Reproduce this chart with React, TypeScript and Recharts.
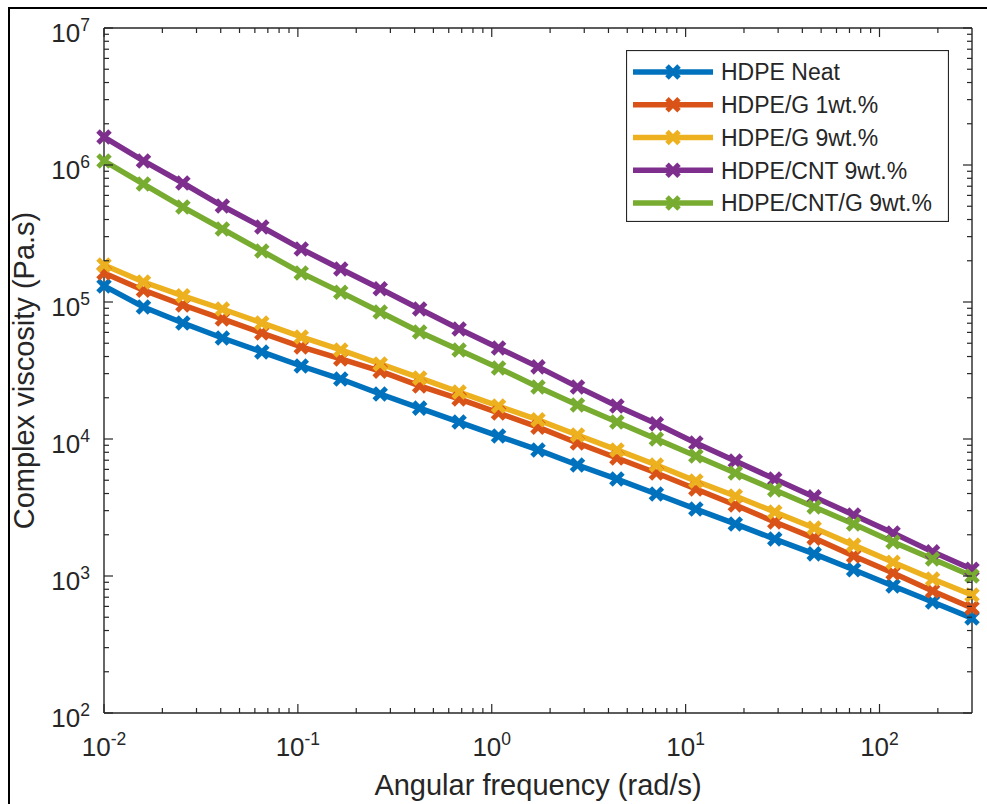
import React from "react";
import { LineChart, Line, XAxis, YAxis, Legend } from "recharts";

// angular frequency (rad/s), 23 points from 0.01 to 300
const freq = [
  0.01, 0.01598, 0.02553, 0.04079, 0.06517, 0.1041, 0.1664, 0.2659, 0.4248,
  0.6787, 1.084, 1.732, 2.768, 4.422, 7.066, 11.29, 18.04, 28.82, 46.04, 73.56,
  117.5, 187.8, 300,
];

// complex viscosity (Pa.s)
const hdpeNeat = [
  131000, 92000, 70300, 54600, 43200, 34100, 27400, 21300, 16800, 13300, 10500,
  8320, 6460, 5100, 3970, 3080, 2400, 1860, 1450, 1110, 845, 646, 493,
];
const hdpeG1 = [
  163000, 122000, 95100, 75200, 59400, 47000, 38400, 31300, 24400, 19600, 15500,
  12200, 9360, 7270, 5650, 4320, 3300, 2480, 1890, 1400, 1050, 778, 583,
];
const hdpeG9 = [
  186000, 140000, 111000, 88900, 70300, 55600, 44700, 35300, 27900, 22000,
  17400, 13800, 10700, 8320, 6460, 4930, 3840, 2930, 2240, 1680, 1260, 951, 726,
];
const hdpeCnt9 = [
  1600000, 1070000, 739000, 502000, 353000, 244000, 174000, 125000, 88900,
  63600, 46200, 33600, 24000, 17400, 12900, 9360, 6910, 5100, 3780, 2790, 2060,
  1500, 1120,
];
const hdpeCntG9 = [
  1070000, 726000, 493000, 341000, 236000, 163000, 118000, 84500, 60400, 44700,
  33000, 24000, 17700, 13300, 10000, 7520, 5650, 4250, 3190, 2400, 1770, 1330,
  1000,
];

const seriesKeys = ["neat", "g1", "g9", "cnt9", "cntg9"];
const seriesNames = [
  "HDPE Neat",
  "HDPE/G 1wt.%",
  "HDPE/G 9wt.%",
  "HDPE/CNT 9wt.%",
  "HDPE/CNT/G 9wt.%",
];
const seriesColors = ["#0072BD", "#D95319", "#EDB120", "#7E2F8E", "#77AC30"];

// major + minor tick positions on the log axes
const xMajor = [0.01, 0.1, 1, 10, 100];
const yMajor = [1e2, 1e3, 1e4, 1e5, 1e6, 1e7];
const mantissas = [2, 3, 4, 5, 6, 7, 8, 9];
const xTicks = [
  ...xMajor,
  ...xMajor.flatMap((d) => mantissas.map((m) => m * d)).filter((v) => v < 300),
];
const yTicks = [
  ...yMajor,
  ...yMajor.slice(0, -1).flatMap((d) => mantissas.map((m) => m * d)),
];

const data = freq.map((f, i) => ({
  f,
  neat: hdpeNeat[i],
  g1: hdpeG1[i],
  g9: hdpeG9[i],
  cnt9: hdpeCnt9[i],
  cntg9: hdpeCntG9[i],
}));

const font = '"Liberation Sans", Arial, Helvetica, sans-serif';
const axisColor = "#262626";

const XMark = ({ cx, cy, color }: any) => {
  const s = 6;
  return (
    <g stroke={color} strokeWidth={5}>
      <line x1={cx - s} y1={cy - s} x2={cx + s} y2={cy + s} />
      <line x1={cx - s} y1={cy + s} x2={cx + s} y2={cy - s} />
    </g>
  );
};

const isMajor = (v: number) => {
  const e = Math.log10(v);
  return Math.abs(e - Math.round(e)) < 1e-6;
};

// draws inward tick marks (long for decades, short for minor) and the 10^n labels
const BoxTick = (props: any) => {
  const { x, y, payload, side, labeled } = props;
  const v = payload.value;
  const major = isMajor(v);
  const len = major ? 9 : 5;
  const exp = Math.round(Math.log10(v));
  let tick = null;
  if (side === "bottom") tick = <line x1={x} x2={x} y1={y} y2={y - len} />;
  if (side === "top") tick = <line x1={x} x2={x} y1={y} y2={y + len} />;
  if (side === "left") tick = <line x1={x} x2={x + len} y1={y} y2={y} />;
  if (side === "right") tick = <line x1={x} x2={x - len} y1={y} y2={y} />;
  let label = null;
  if (labeled && major) {
    const bottom = side === "bottom";
    label = (
      <text
        x={bottom ? x : x - 14}
        y={bottom ? y + 43 : y + 14}
        textAnchor={bottom ? "middle" : "end"}
        fontSize={26}
        fill={axisColor}
        stroke="none"
        fontFamily={font}
      >
        10
        <tspan dy={-11} fontSize={17.5}>
          {exp}
        </tspan>
      </text>
    );
  }
  return (
    <g>
      <g stroke={axisColor} strokeWidth={1.2}>
        {tick}
      </g>
      {label}
    </g>
  );
};

const XTitle = (props: any) => {
  const vb = props.viewBox || {};
  return (
    <text x={vb.x + vb.width / 2} y={795} textAnchor="middle" fontSize={29} fill={axisColor} fontFamily={font}>
      Angular frequency (rad/s)
    </text>
  );
};

const YTitle = (props: any) => {
  const vb = props.viewBox || {};
  const cy = vb.y + vb.height / 2;
  return (
    <text
      x={34}
      y={cy}
      transform={`rotate(-90 34 ${cy})`}
      textAnchor="middle"
      fontSize={29}
      fill={axisColor}
      fontFamily={font}
    >
      Complex viscosity (Pa.s)
    </text>
  );
};

const LegendBox = () => (
  <svg width={323} height={172} style={{ display: "block" }}>
    <rect x={0.5} y={0.5} width={322} height={171} fill="#fff" stroke={axisColor} strokeWidth={1.2} />
    {seriesNames.map((name, i) => {
      const cy = 22 + i * 32.75;
      return (
        <g key={name}>
          <line x1={7} x2={87} y1={cy} y2={cy} stroke={seriesColors[i]} strokeWidth={5.5} />
          <XMark cx={47} cy={cy} color={seriesColors[i]} />
          <text x={95} y={cy} dy="0.36em" fontSize={23} fill={axisColor} fontFamily={font}>
            {name}
          </text>
        </g>
      );
    })}
  </svg>
);

const axisLineStyle = { stroke: axisColor, strokeWidth: 1.4 };

export default function App() {
  return (
    <div style={{ position: "absolute", left: 0, top: 0, width: 987, height: 804, background: "#fff" }}>
      <div
        style={{
          position: "absolute",
          left: 8,
          top: 7,
          width: 979,
          height: 797,
          borderLeft: "2px solid #000",
          borderTop: "2px solid #000",
        }}
      />
      <LineChart
        width={987}
        height={804}
        data={data}
        margin={{ top: 27, right: 14, bottom: 90, left: 103 }}
        style={{ position: "absolute", left: 0, top: 0 }}
      >
        <XAxis
          xAxisId="bottom"
          dataKey="f"
          type="number"
          scale="log"
          domain={[0.01, 300]}
          ticks={xTicks}
          interval={0}
          height={1}
          tickSize={0}
          tickMargin={0}
          tickLine={false}
          tick={<BoxTick side="bottom" labeled />}
          axisLine={axisLineStyle}
          label={<XTitle />}
        />
        <XAxis
          xAxisId="top"
          orientation="top"
          dataKey="f"
          type="number"
          scale="log"
          domain={[0.01, 300]}
          allowDataOverflow
          ticks={xTicks}
          interval={0}
          height={1}
          tickSize={0}
          tickMargin={0}
          tickLine={false}
          tick={<BoxTick side="top" />}
          axisLine={axisLineStyle}
        />
        <YAxis
          yAxisId="left"
          type="number"
          scale="log"
          domain={[1e2, 1e7]}
          ticks={yTicks}
          interval={0}
          width={1}
          tickSize={0}
          tickMargin={0}
          tickLine={false}
          tick={<BoxTick side="left" labeled />}
          axisLine={axisLineStyle}
          label={<YTitle />}
        />
        <YAxis
          yAxisId="right"
          orientation="right"
          type="number"
          scale="log"
          domain={[1e2, 1e7]}
          allowDataOverflow
          ticks={yTicks}
          interval={0}
          width={1}
          tickSize={0}
          tickMargin={0}
          tickLine={false}
          tick={<BoxTick side="right" />}
          axisLine={axisLineStyle}
        />
        {seriesKeys.map((key, i) => (
          <Line
            key={key}
            xAxisId="bottom"
            yAxisId="left"
            dataKey={key}
            name={seriesNames[i]}
            stroke={seriesColors[i]}
            strokeWidth={5.5}
            isAnimationActive={false}
            dot={(p: any) => <XMark key={`${key}-${p.index}`} cx={p.cx} cy={p.cy} color={seriesColors[i]} />}
            activeDot={false}
          />
        ))}
        <Legend
          content={<LegendBox />}
          layout="horizontal"
          align="center"
          verticalAlign="middle"
          wrapperStyle={{ left: 626, top: 50, width: 323, height: 172 }}
        />
      </LineChart>
    </div>
  );
}
